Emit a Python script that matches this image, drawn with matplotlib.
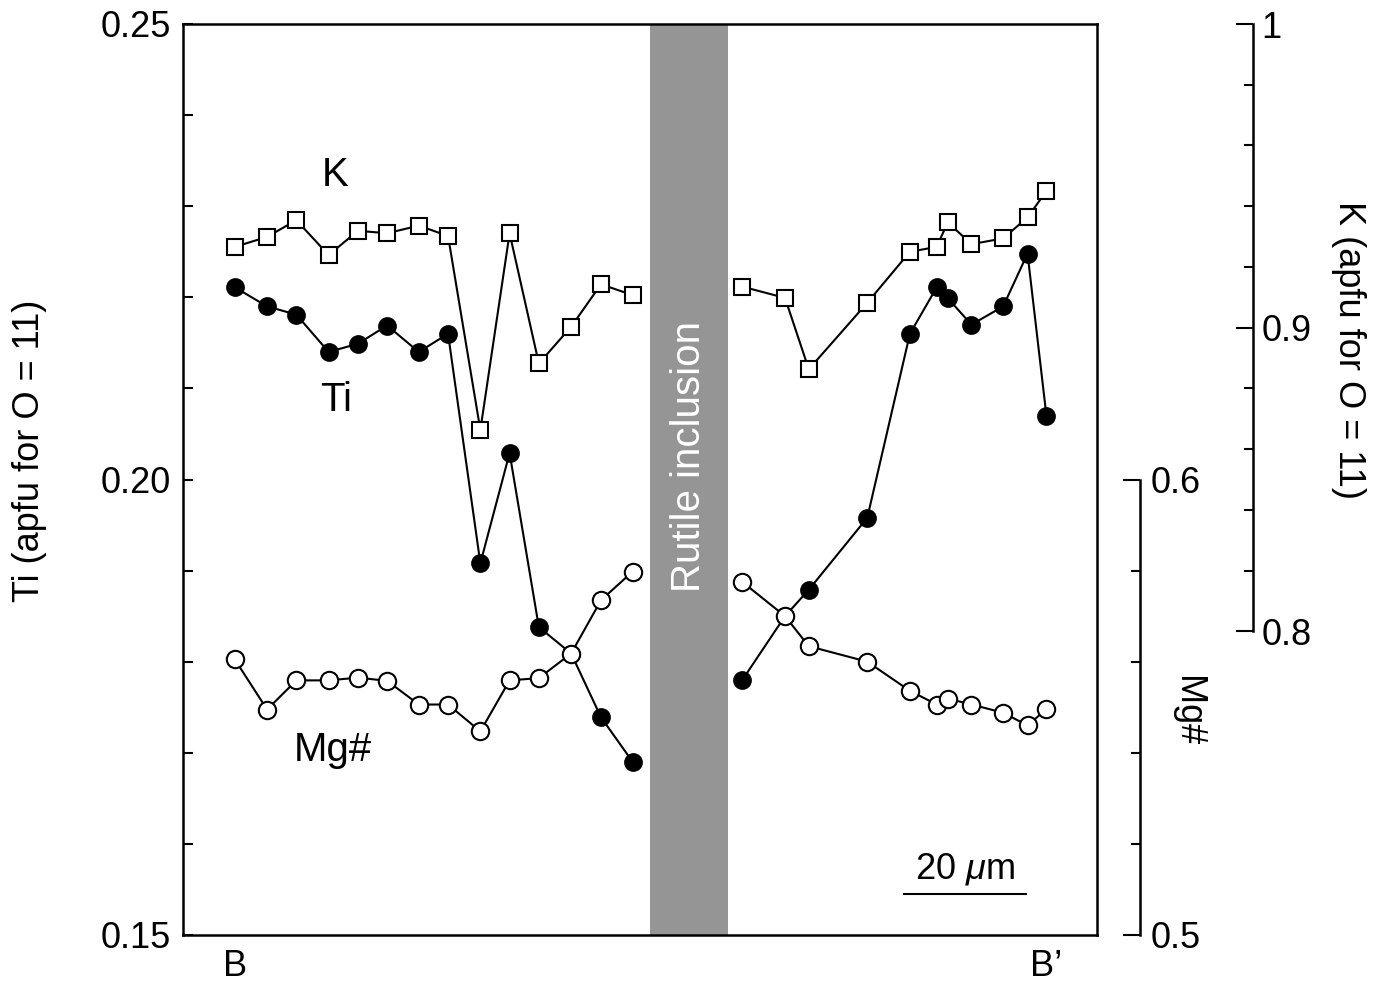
import numpy as np
import matplotlib
matplotlib.use("Agg")
import matplotlib.pyplot as plt
import matplotlib.ticker as mticker

plt.rcParams["font.family"] = ["Liberation Sans", "DejaVu Sans"]
plt.rcParams["mathtext.fontset"] = "custom"
plt.rcParams["mathtext.rm"] = "Liberation Sans"
plt.rcParams["mathtext.it"] = "Liberation Sans:italic"

# distance along the profile B-B' (um)
distance = [8.5, 13.8, 18.6, 23.9, 28.7, 33.5, 38.7, 43.5, 48.8, 53.6, 58.4,
            63.7, 68.6, 73.8, 91.8, 98.8, 102.7, 112.3, 119.3, 123.7, 125.5,
            129.4, 134.6, 138.6, 141.7]
# Ti (apfu for O = 11)
ti = [0.2211, 0.2190, 0.2181, 0.2140, 0.2149, 0.2169, 0.2140, 0.2160, 0.1908,
      0.2029, 0.1838, 0.1809, 0.1739, 0.1690, 0.1780, 0.1850, 0.1879, 0.1958,
      0.2160, 0.2211, 0.2199, 0.2170, 0.2190, 0.2248, 0.2070]
# K (apfu for O = 11)
k = [0.9266, 0.9299, 0.9354, 0.9239, 0.9319, 0.9311, 0.9336, 0.9302, 0.8663,
     0.9311, 0.8882, 0.9003, 0.9143, 0.9107, 0.9135, 0.9098, 0.8863, 0.9082,
     0.9250, 0.9266, 0.9347, 0.9275, 0.9294, 0.9363, 0.9450]
# Mg#
mg_number = [0.5605, 0.5495, 0.5559, 0.5559, 0.5565, 0.5558, 0.5506, 0.5506,
             0.5447, 0.5559, 0.5564, 0.5618, 0.5735, 0.5798, 0.5775, 0.5700,
             0.5634, 0.5600, 0.5536, 0.5506, 0.5519, 0.5506, 0.5488, 0.5460,
             0.5496]

rutile_span = (76.7, 89.4)
scale_bar = (118.3, 138.3)

d = np.array(distance)
series = {"ti": np.array(ti), "k": np.array(k), "mg": np.array(mg_number)}
# profile is broken by the rutile inclusion
sides = [d < rutile_span[0], d > rutile_span[1]]

fig = plt.figure(figsize=(13.87, 9.86), dpi=100)
ax = fig.add_axes([183 / 1387, 51 / 986, 914 / 1387, 911 / 986])
ax_k = ax.twinx()
ax_mg = ax.twinx()

# rutile inclusion band
ax.axvspan(*rutile_span, color="#959595", lw=0, zorder=0)
ax.text(np.mean(rutile_span), 0.525, "Rutile inclusion", transform=ax.get_xaxis_transform(),
        rotation=90, ha="center", va="center", color="white", fontsize=29)

for m in sides:
    ax.plot(d[m], series["ti"][m], "-o", color="black", lw=1.5, ms=12.5, mfc="black")
    ax_k.plot(d[m], series["k"][m], "-s", color="black", lw=1.5, ms=12, mfc="white", mew=1.5)
    ax_mg.plot(d[m], series["mg"][m], "-o", color="black", lw=1.5, ms=12.5, mfc="white", mew=1.5)

ax.set_xlim(0, 150)
ax.set_ylim(0.15, 0.25)
ax_k.set_ylim(0.7, 1.0)
ax_mg.set_ylim(0.5, 0.7)

# main frame
for s in ax.spines.values():
    s.set_linewidth(1.8)
ax.set_xticks([distance[0], distance[-1]], ["B", "B\u2019"])
ax.tick_params(axis="x", length=0, labelsize=26, pad=10)
ax.yaxis.set_major_locator(mticker.MultipleLocator(0.05))
ax.yaxis.set_minor_locator(mticker.MultipleLocator(0.01))
ax.yaxis.set_major_formatter(mticker.FormatStrFormatter("%.2f"))
ax.tick_params(axis="y", which="both", direction="in", length=7, width=1.5,
               labelsize=26, pad=9)

# extra right axes (K and Mg#)
for a, pos, bounds, majors, minors, pad in [
    (ax_k, (1253 - 183) / 914, (0.8, 1.0), [0.8, 0.9, 1.0], np.arange(0.82, 1.0, 0.02), 6),
    (ax_mg, (1140 - 183) / 914, (0.5, 0.6), [0.5, 0.6], np.arange(0.52, 0.6, 0.02), 8),
]:
    for name, s in a.spines.items():
        s.set_visible(name == "right")
    a.spines["right"].set_position(("axes", pos))
    a.spines["right"].set_bounds(*bounds)
    a.spines["right"].set_linewidth(1.8)
    a.yaxis.set_major_locator(mticker.FixedLocator(majors))
    a.yaxis.set_minor_locator(mticker.FixedLocator(minors))
    a.yaxis.set_major_formatter(mticker.FuncFormatter(
        lambda v, p: "1" if abs(v - 1) < 1e-9 else f"{v:.1f}"))
    a.tick_params(axis="y", which="major", direction="in", length=12, width=1.5,
                  labelsize=26, pad=pad)
    a.tick_params(axis="y", which="minor", direction="in", length=6.5, width=1.5)

# series labels
ax.text(0.166, 0.834, "K", transform=ax.transAxes, ha="center", va="center", fontsize=29)
ax.text(0.168, 0.587, "Ti", transform=ax.transAxes, ha="center", va="center", fontsize=29)
ax.text(0.164, 0.203, "Mg#", transform=ax.transAxes, ha="center", va="center", fontsize=29)

# axis titles
fig.text(0.0216, 0.5426, "Ti (apfu for O = 11)", rotation=90, ha="center", va="center", fontsize=26)
fig.text(0.972, 0.645, "K (apfu for O = 11)", rotation=270, ha="center", va="center", fontsize=26)
fig.text(0.8565, 0.279, "Mg#", rotation=270, ha="center", va="center", fontsize=26)

# scale bar
trans = ax.get_xaxis_transform()
ax.plot(scale_bar, [0.045, 0.045], color="black", lw=1.5, transform=trans)
ax.text(np.mean(scale_bar), 0.0725, "20 $\\mu$m", transform=trans, ha="center",
        va="center", fontsize=26)

fig.savefig("out.png", dpi=100)
